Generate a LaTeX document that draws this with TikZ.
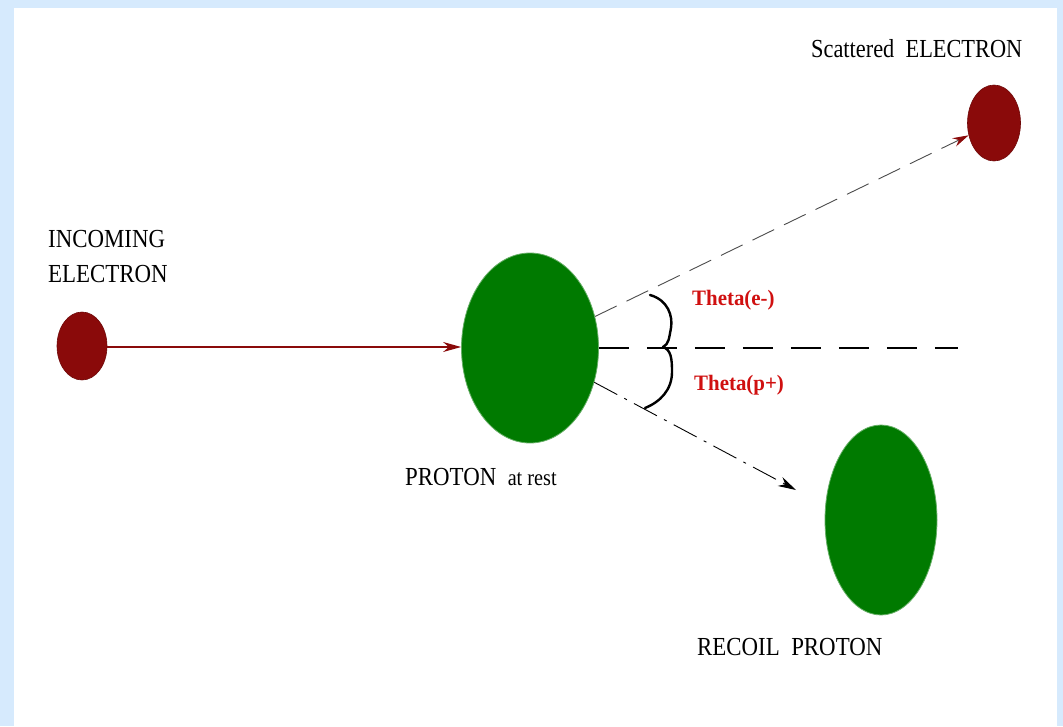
\documentclass[tikz,border=0pt]{standalone}
\usepackage{fontspec}
\setmainfont{Liberation Serif}
\usetikzlibrary{shapes.geometric,arrows.meta}
\definecolor{bgblue}{HTML}{D6EAFD}
\definecolor{elred}{HTML}{8A0A0A}
\definecolor{prgreen}{HTML}{007A00}
\definecolor{lblred}{HTML}{D01010}
\tikzset{
  electron/.style={ellipse, fill=elred, draw=elred!80!black, line width=0.6pt, inner sep=0pt},
  proton/.style={ellipse, fill=prgreen, draw=prgreen!60!white, line width=0.8pt, inner sep=0pt},
  lbl/.style={inner sep=0pt, anchor=base west, font=\fontsize{26}{28}\selectfont},
  thlbl/.style={inner sep=0pt, anchor=base west, text=lblred, font=\fontsize{22}{24}\selectfont\bfseries},
  track/.style={draw=gray!60!black, line width=0.9pt, dash pattern=on 24pt off 11pt},
  axis/.style={draw=black, line width=2.6pt, dash pattern=on 30pt off 18pt},
  recoiltrack/.style={draw=gray!60!black, line width=0.9pt, dash pattern=on 26pt off 8pt on 3pt off 8pt},
  tip/.style={-{Stealth[length=18pt,width=10pt]}}
}
\begin{document}
\begin{tikzpicture}[x=1pt,y=-1pt]
\fill[bgblue] (0,0) rectangle (1063,726);
\fill[white] (14,8) rectangle (1057,726);
\useasboundingbox (0,0) rectangle (1063,726);

% particles
\node[electron, minimum width=50pt, minimum height=68pt] (inc) at (82,346) {};
\node[proton, minimum width=137pt, minimum height=190pt] (prot) at (530,348) {};
\node[electron, minimum width=53pt, minimum height=76pt] (scat) at (994,123) {};
\node[proton, minimum width=112pt, minimum height=190pt] (rec) at (881,520) {};
\coordinate (axisend) at (958,348);
\coordinate (rectip) at (796,490);

% connectors
\draw[elred, line width=1.2pt, tip] (inc.east |- 0,347) -- (prot.west |- 0,347);
\draw[track, -{Stealth[length=16pt,width=9pt,color=elred]}] (prot) -- (scat);
\draw[axis] (prot.east) -- (axisend);
\draw[recoiltrack, tip, black] (prot) -- (rectip);

% braces
\draw[line width=2.4pt, line cap=round, line join=round]
  (650,295) .. controls (668,300) and (673,316) .. (671,328)
  .. controls (669,338) and (669,344) .. (663,347)
  .. controls (671,350) and (672,358) .. (672,372)
  .. controls (672,390) and (660,402) .. (645,408);

% labels
\node[lbl] (tinc1) at (48,247) {\scalebox{0.88}[1]{INCOMING}};
\node[lbl] (tinc2) at (48,282) {\scalebox{0.88}[1]{ELECTRON}};
\node[lbl] (tscat) at (811,57) {\scalebox{0.86}[1]{Scattered\ \ ELECTRON}};
\node[lbl] (tprot) at (405,485) {\scalebox{0.88}[1]{PROTON\ \ {\fontsize{23}{25}\selectfont at rest}}};
\node[lbl] (trec) at (697,655) {\scalebox{0.88}[1]{RECOIL\ \ PROTON}};
\node[thlbl] (the) at (692,305) {\scalebox{0.95}[1]{Theta(e-)}};
\node[thlbl] (thp) at (694,390) {\scalebox{0.95}[1]{Theta(p+)}};
\end{tikzpicture}
\end{document}
